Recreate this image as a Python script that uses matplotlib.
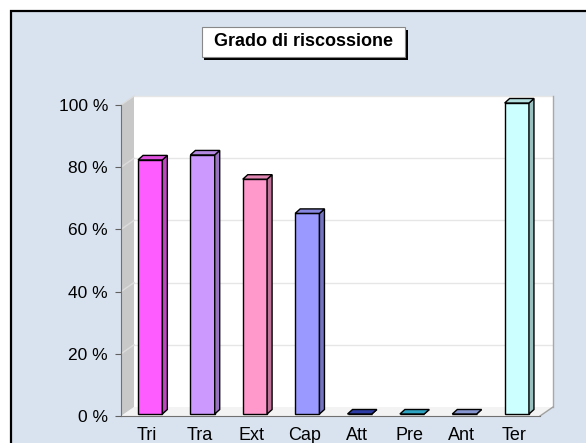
import matplotlib
matplotlib.use("Agg")
import matplotlib.pyplot as plt
import matplotlib.patches as mpatches
from matplotlib.colors import to_rgb
import numpy as np

plt.rcParams['font.family'] = ['Liberation Sans', 'DejaVu Sans']

# ---- data ----
categories = ["Tri", "Tra", "Ext", "Cap", "Att", "Pre", "Ant", "Ter"]
values = [81.7, 83.3, 75.5, 64.5, 0, 0, 0, 100]
bar_colors = ["#ff5cff", "#cc99ff", "#ff99cc", "#9999ff",
              "#3344bb", "#33bbdd", "#99aaee", "#ccffff"]
yticks = [0, 20, 40, 60, 80, 100]
ytick_labels = [f"{v} %" for v in yticks]
title = "Grado di riscossione"

W, H = 586, 443
fig = plt.figure(figsize=(W / 100, H / 100), dpi=100, facecolor="white")

def fx(x):
    return x / W

def fy(y):
    return 1 - y / H

# background frame
bg = mpatches.Rectangle((fx(10.5), -0.1), 1.2, fy(11.5) + 0.1,
                        transform=fig.transFigure, facecolor="#d9e3ef",
                        edgecolor="black", lw=1.6, zorder=-5)
fig.patches.append(bg)

# title box with shadow
bx0, bx1, by0, by1 = 201.5, 405, 26.5, 57
shadow = mpatches.Rectangle((fx(bx0 + 3), fy(by1 + 3)), fx(bx1 - bx0), fy(by0) - fy(by1),
                            transform=fig.transFigure, facecolor="black",
                            edgecolor="none", zorder=1)
box = mpatches.Rectangle((fx(bx0), fy(by1)), fx(bx1 - bx0), fy(by0) - fy(by1),
                         transform=fig.transFigure, facecolor="white",
                         edgecolor="#888888", lw=0.8, zorder=2)
fig.patches.append(shadow)
fig.patches.append(box)
fig.text(fx((bx0 + bx1) / 2), fy((by0 + by1) / 2), title, fontsize=13,
         fontweight="bold", ha="center", va="center", zorder=3)

# axes = front plane
ax_l, ax_r, ax_top, ax_bot = 121, 540, 105, 416
ax = fig.add_axes([fx(ax_l), fy(ax_bot), fx(ax_r - ax_l), fy(ax_top) - fy(ax_bot)])
ax.patch.set_visible(False)
ax.set_zorder(1)
n = len(categories)
ax.set_xlim(-0.5, n - 0.5)
ax.set_ylim(0, 100)

ux = (ax_r - ax_l) / n          # px per category
uy = (ax_bot - ax_top) / 100.0  # px per percent

# wall depth offsets (data units)
DX, DY = 13 / ux, 9 / uy
x0, x1 = -0.5, n - 0.5

# back wall
ax.add_patch(mpatches.Polygon([(x0 + DX, DY), (x1 + DX, DY), (x1 + DX, 100 + DY), (x0 + DX, 100 + DY)],
                              closed=True, facecolor="white", edgecolor="none",
                              clip_on=False, zorder=0.5))
# side wall
ax.add_patch(mpatches.Polygon([(x0, 0), (x0 + DX, DY), (x0 + DX, 100 + DY), (x0, 100)],
                              closed=True, facecolor="#c8c8c8", edgecolor="none",
                              clip_on=False, zorder=0.6))
# floor
ax.add_patch(mpatches.Polygon([(x0, 0), (x1, 0), (x1 + DX, DY), (x0 + DX, DY)],
                              closed=True, facecolor="#f3f3f3", edgecolor="none",
                              clip_on=False, zorder=0.6))
# gridlines
for v in yticks[1:]:
    ax.plot([x0 + DX, x1 + DX], [v + DY, v + DY], color="#e6e6e6", lw=1,
            clip_on=False, zorder=0.7)
    ax.plot([x0, x0 + DX], [v, v + DY], color="#dcdcdc", lw=1,
            clip_on=False, zorder=0.7)
# right edge of back wall and floor diagonal
ax.plot([x1 + DX, x1 + DX], [DY, 100 + DY], color="#a8a8a8", lw=1, clip_on=False, zorder=0.8)
ax.plot([x1, x1 + DX], [0, DY], color="#a0a0a0", lw=1, clip_on=False, zorder=0.8)

# bars
BX, BY = 3 / ux, 2 / uy          # bar front-face offset
bw = 24.3 / ux
DBX, DBY = 5 / ux, 4.5 / uy      # bar depth
xs = np.arange(n)

def shade(c, f):
    r, g, b = to_rgb(c)
    return (r * f, g * f, b * f)

ax.bar(xs + BX, values, width=bw, bottom=BY, color=bar_colors,
       edgecolor="black", lw=1, zorder=3, clip_on=False)
for x, v, c in zip(xs, values, bar_colors):
    xl, xr = x + BX - bw / 2, x + BX + bw / 2
    yb, yt = BY, BY + v
    side = [(xr, yb), (xr + DBX, yb + DBY), (xr + DBX, yt + DBY), (xr, yt)]
    top = [(xl, yt), (xr, yt), (xr + DBX, yt + DBY), (xl + DBX, yt + DBY)]
    ax.add_patch(mpatches.Polygon(side, closed=True, facecolor=shade(c, 0.75),
                                  edgecolor="black", lw=1, clip_on=False, zorder=3))
    ax.add_patch(mpatches.Polygon(top, closed=True, facecolor=shade(c, 0.88),
                                  edgecolor="black", lw=1, clip_on=False, zorder=3))

# axes styling
for s in ["top", "right"]:
    ax.spines[s].set_visible(False)
ax.spines["left"].set_color("#707070")
ax.spines["bottom"].set_color("#707070")
ax.spines["left"].set_zorder(2)
ax.spines["bottom"].set_zorder(2)
ax.set_yticks(yticks)
ax.set_yticklabels(ytick_labels)
ax.set_xticks(xs)
ax.set_xticklabels(categories)
ax.tick_params(axis="y", direction="out", length=4.3, width=0.8, color="#606060",
               pad=5, labelsize=12.5)
ax.tick_params(axis="x", length=0, pad=8, labelsize=13)

fig.savefig("out.png", dpi=100)
